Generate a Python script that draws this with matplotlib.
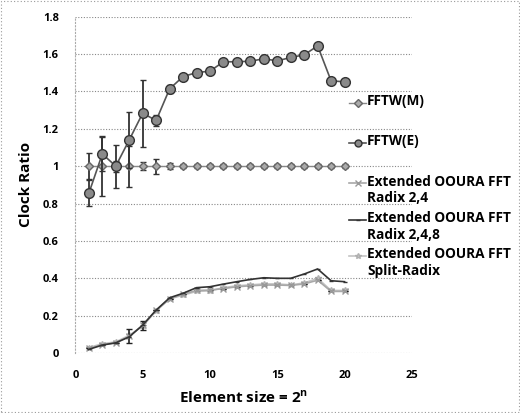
import matplotlib
matplotlib.use("Agg")
import matplotlib.pyplot as plt
from matplotlib.patches import Rectangle
from matplotlib.lines import Line2D

n = list(range(1, 21))
fftw_m = [1.0] * 20
fftw_m_err = [0.07, 0.16, 0.115, 0.11, 0.02, 0.04, 0.015, 0.01, 0.01, 0.01,
              0.01, 0.01, 0.01, 0.01, 0.01, 0.01, 0.01, 0.01, 0.01, 0.01]
fftw_e = [0.855, 1.065, 1.0, 1.14, 1.283, 1.244, 1.413, 1.479, 1.50, 1.508,
          1.558, 1.558, 1.561, 1.574, 1.563, 1.581, 1.595, 1.643, 1.456, 1.451]
fftw_e_err = [0.07, 0.09, 0.03, 0.15, 0.18, 0.03, 0.02, 0.01, 0.01, 0.01,
              0.01, 0.01, 0.01, 0.01, 0.01, 0.01, 0.01, 0.01, 0.01, 0.01]
radix24 = [0.025, 0.045, 0.055, 0.09, 0.148, 0.23, 0.29, 0.315, 0.335, 0.337,
           0.345, 0.355, 0.36, 0.364, 0.364, 0.362, 0.37, 0.39, 0.33, 0.33]
radix248 = [0.02, 0.043, 0.055, 0.087, 0.15, 0.23, 0.296, 0.32, 0.35, 0.355,
            0.369, 0.382, 0.394, 0.403, 0.40, 0.40, 0.423, 0.45, 0.387, 0.382]
split = [0.03, 0.05, 0.06, 0.095, 0.145, 0.225, 0.29, 0.31, 0.33, 0.333,
         0.35, 0.36, 0.365, 0.37, 0.37, 0.365, 0.375, 0.40, 0.335, 0.335]
low_err = [0.0, 0.0, 0.0, 0.037, 0.025, 0.0, 0.0, 0.0, 0.0, 0.0,
           0.0, 0.0, 0.0, 0.0, 0.0, 0.0, 0.0, 0.0, 0.0, 0.0]

xticks = [0, 5, 10, 15, 20, 25]
yticks = [0, 0.2, 0.4, 0.6, 0.8, 1.0, 1.2, 1.4, 1.6, 1.8]
ytick_labels = ["0", "0.2", "0.4", "0.6", "0.8", "1", "1.2", "1.4", "1.6", "1.8"]
legend_labels = ["FFTW(M)", "FFTW(E)", "Extended OOURA FFT\nRadix 2,4",
                 "Extended OOURA FFT\nRadix 2,4,8", "Extended OOURA FFT\nSplit-Radix"]

plt.rcParams['font.family'] = ['Open Sans', 'DejaVu Sans']

W, H = 520, 413
fig = plt.figure(figsize=(W / 100, H / 100), dpi=100)
ax = fig.add_axes([0.145, 0.145, 0.647, 0.815])

styles = [
    dict(color='#888888', lw=1.0, marker='D', ms=4, mfc='#aaaaaa', mec='#666666'),
    dict(color='#555555', lw=1.2, marker='o', ms=7, mfc='#8a8a8a', mec='#333333', mew=1.0),
    dict(color='#a8a8a8', lw=1.2, marker='x', ms=4, mec='#999999'),
    dict(color='#333333', lw=1.2, marker='_', ms=3),
    dict(color='#c4c4c4', lw=1.2, marker='*', ms=4, mec='#b0b0b0'),
]

ax.errorbar(n, fftw_m, yerr=fftw_m_err, ecolor='#333333', elinewidth=1.3,
            capsize=2, zorder=3, **styles[0])
ax.errorbar(n, fftw_e, yerr=fftw_e_err, ecolor='#333333', elinewidth=1.3,
            capsize=2, zorder=4, **styles[1])
ax.errorbar(n, radix24, yerr=low_err, ecolor='#222222', capsize=2, zorder=3, **styles[2])
ax.plot(n, radix248, zorder=4, **styles[3])
ax.plot(n, split, zorder=2, **styles[4])

ax.set_xlim(0, 25)
ax.set_ylim(0, 1.8)
ax.set_xticks(xticks)
ax.set_yticks(yticks)
ax.set_yticklabels(ytick_labels)
ax.tick_params(length=0, labelsize=8, pad=12)
for lab in ax.get_xticklabels() + ax.get_yticklabels():
    lab.set_fontweight('bold')
ax.yaxis.grid(True, linestyle=(0, (1, 1.5)), color='#888888', lw=0.8)
ax.set_axisbelow(True)
for s in ['top', 'right', 'bottom']:
    ax.spines[s].set_visible(False)
ax.spines['left'].set_linestyle((0, (1, 2)))
ax.spines['left'].set_color('#aaaaaa')

ax.set_ylabel('Clock Ratio', fontsize=11, fontweight='bold', labelpad=7)
ax.set_xlabel('Element size = 2$^{\\mathregular{n}}$', fontsize=11, fontweight='bold', labelpad=6)

# manual legend (pixel rows of first text line)
rows = [103, 143, 183, 220, 256]
for lab, st, yp in zip(legend_labels, styles, rows):
    yf = 1 - yp / H
    st2 = dict(st)
    st2['ms'] = min(st2.get('ms', 4), 5)
    fig.add_artist(Line2D([349 / W, 357.5 / W, 366 / W], [yf, yf, yf],
                          transform=fig.transFigure, markevery=[1], **st2))
    fig.text(367 / W, yf + 8.5 / H, lab, fontsize=9.8, fontweight='bold',
             va='top', ha='left', linespacing=1.25)

fig.patches.append(Rectangle((0.002, 0.002), 0.996, 0.996, transform=fig.transFigure,
                             fill=False, ls=(0, (1, 2)), lw=0.8, ec='#999999'))

fig.savefig('out.png', dpi=100)
